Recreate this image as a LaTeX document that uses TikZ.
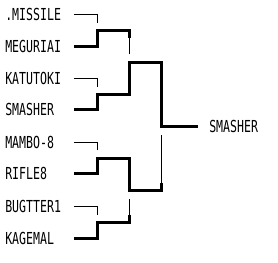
\documentclass[tikz,border=0pt]{standalone}
\usepackage{fontspec}
\newfontfamily\bracketfont[FakeStretch=0.7]{DejaVu Sans Mono}
\usetikzlibrary{positioning}
\tikzset{
  entrybox/.style={anchor=west, inner sep=0pt,
    font=\bracketfont\fontsize{12.4}{14}\selectfont},
  winline/.style={line width=2.25pt, line join=miter},
  loseline/.style={line width=0.75pt},
}

\begin{document}
\begin{tikzpicture}[x=0.75pt, y=-0.75pt]
  \useasboundingbox (0,0) rectangle (278,262);
  % ---- Entries ----
  \node[entrybox] at (5,14)  (e1) {.MISSILE};
  \node[entrybox] at (5,46)  (e2) {MEGURIAI};
  \node[entrybox] at (5,78)  (e3) {KATUTOKI};
  \node[entrybox] at (5,109) (e4) {SMASHER};
  \node[entrybox] at (5,142) (e5) {MAMBO-8};
  \node[entrybox] at (5,173) (e6) {RIFLE8};
  \node[entrybox] at (5,206) (e7) {BUGTTER1};
  \node[entrybox] at (5,238) (e8) {KAGEMAL};
  % line starts
  \foreach \i/\r in {1/14,2/46,3/78,4/109,5/142,6/173,7/206,8/238}
    \coordinate (s\i) at (74,\r);

  % ---- Match points ----
  \coordinate (m1) at (97,30);
  \coordinate (m2) at (97,94);
  \coordinate (m3) at (97,158);
  \coordinate (m4) at (97,222);
  \coordinate (q1) at (129,62);
  \coordinate (q2) at (129,190);
  \coordinate (fin) at (161,126);
  \coordinate (end) at (198,126);

  % ---- Winner ----
  \node[entrybox] at (209,126) (champ) {SMASHER};

  % ---- Round 1 ----
  \draw[loseline] (s1) -| ++(23,9);
  \draw[loseline] (s3) -| ++(23,9);
  \draw[loseline] (s5) -| ++(23,8);
  \draw[loseline] (s7) -| ++(23,9);
  % ---- Round 2 ----
  \draw[winline]  (s2) -| (m1) -- (m1 -| q1) -- ++(0,8) coordinate (a1);
  \draw[loseline] (a1) -- ++(0,16);
  \draw[winline]  (s8) -| (m4) -- (m4 -| q2) -- ++(0,-7) coordinate (a2);
  \draw[loseline] (a2) -- ++(0,-16);
  % ---- Final ----
  \draw[winline]  (s6) -| (m3) -| (q2) -- (q2 -| fin) -- ++(0,-7) coordinate (a3);
  \draw[loseline] (a3) -- ++(0,-48);
  \draw[winline]  (s4) -| (m2) -| (q1) -| (fin) -- (end);
\end{tikzpicture}
\end{document}
